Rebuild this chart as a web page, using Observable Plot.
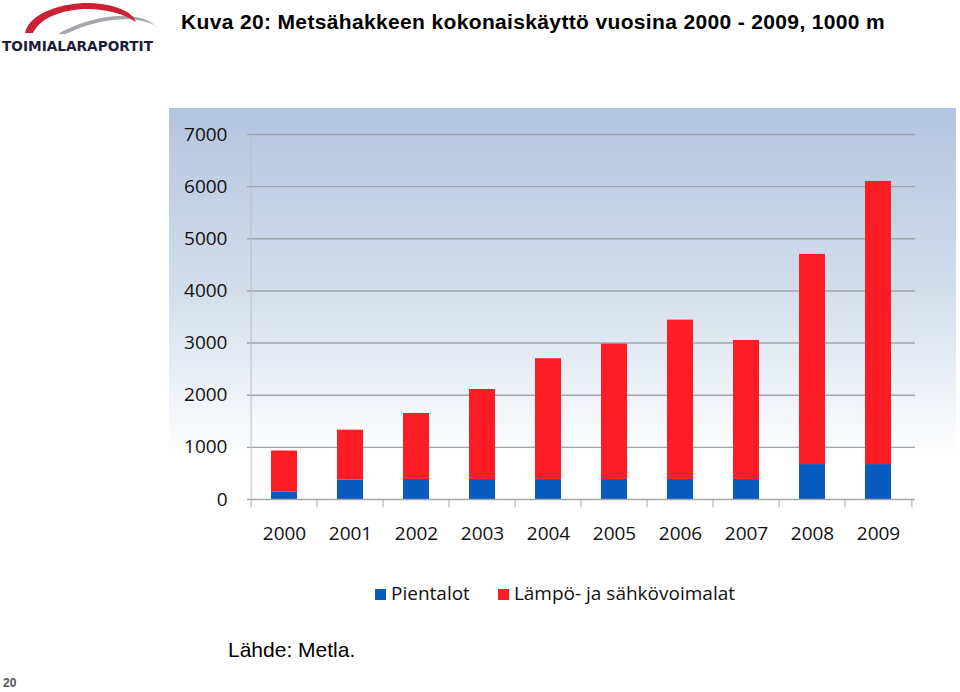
<!DOCTYPE html>
<html>
<head>
<meta charset="utf-8">
<script src="https://cdn.jsdelivr.net/npm/d3@7"></script>
<script src="https://cdn.jsdelivr.net/npm/@observablehq/plot@0.6"></script>
<style>
  html, body { margin: 0; padding: 0; background: #fff; }
  body { width: 960px; height: 692px; position: relative; overflow: hidden; font-family: "Liberation Sans", Arial, sans-serif; }
  #title { position: absolute; left: 181px; top: 10px; font-size: 21px; letter-spacing: 0.35px; font-weight: bold; color: #000; white-space: nowrap; }
  #panel { position: absolute; left: 169px; top: 108px; width: 787px; height: 460px;
           background: linear-gradient(to bottom, #b2c5df 0%, #d3deec 40%, #ffffff 76%, #ffffff 100%); }
  #chart { position: absolute; left: 169px; top: 108px; }
  #legend { position: absolute; left: 375px; top: 580px; font-family: "Open Sans", sans-serif; font-size: 19px; color: #111; white-space: nowrap; }
  #legend span.sw { display: inline-block; width: 11px; height: 11px; margin-right: 5px; vertical-align: 0px; }
  #legend span.it { margin-right: 28px; }
  #source { position: absolute; left: 228px; top: 638px; font-size: 21px; color: #000; }
  #page { position: absolute; left: 3px; top: 676px; font-size: 12px; font-weight: bold; color: #555; }
  #logo { position: absolute; left: 0; top: 0; }
</style>
</head>
<body>
<svg id="logo" width="160" height="56" viewBox="0 0 160 56">
  <path d="M 58 34 C 85 18, 135 6, 157 27 C 140 15, 100 17, 66 34 Z" fill="#a3a6ab"/>
  <path d="M 25 33 C 30 10, 70 2, 90 3 C 115 4, 133 12, 136 22 C 125 14, 105 9, 88 9 C 62 9, 40 18, 33 33 Z" fill="#cc2034"/>
  <text x="2" y="51" font-family="DejaVu Sans, sans-serif" font-weight="bold" font-size="14" fill="#1b1d3a" textLength="151" lengthAdjust="spacingAndGlyphs">TOIMIALARAPORTIT</text>
</svg>
<div id="title">Kuva 20: Metsähakkeen kokonaiskäyttö vuosina 2000 - 2009, 1000 m</div>
<div id="panel"></div>
<div id="chart"></div>
<div id="legend"></div>
<div id="source">Lähde: Metla.</div>
<div id="page">20</div>
<script>
const years = ["2000","2001","2002","2003","2004","2005","2006","2007","2008","2009"];
const seriesNames = ["Pientalot", "Lämpö- ja sähkövoimalat"];
const pientalot = [140, 370, 385, 385, 385, 385, 385, 385, 670, 670];
const lampo = [790, 960, 1265, 1725, 2315, 2595, 3055, 2665, 4030, 5430];
const seriesColors = ["#0a5bbf", "#fe1d25"];
const yTicks = [0, 1000, 2000, 3000, 4000, 5000, 6000, 7000];

const data = [];
years.forEach((y, i) => {
  data.push({year: y, series: seriesNames[0], value: pientalot[i]});
  data.push({year: y, series: seriesNames[1], value: lampo[i]});
});

const width = 788, height = 460;
const mL = 78, mR = 42, mT = 26, mB = 69;
const step = (width - mL - mR) / years.length;
const fontAxis = "Open Sans, sans-serif";

const chart = Plot.plot({
  width, height,
  marginLeft: mL, marginRight: mR, marginTop: mT, marginBottom: mB,
  style: {background: "transparent", fontFamily: fontAxis, fontSize: "19px", color: "#111", overflow: "visible"},
  x: {domain: years, paddingInner: 0.6, paddingOuter: 0.3, label: null},
  y: {domain: [0, 7000], label: null},
  color: {domain: seriesNames, range: seriesColors},
  marks: [
    Plot.ruleY(yTicks.slice(1), {stroke: "#9ea4ac", strokeWidth: 1.4}),
    Plot.ruleX(years.slice(0, 1), {x: d => d, dx: -step / 2, y1: 0, y2: 7000, stroke: "#b9bec4", strokeWidth: 1}),
    Plot.ruleX(years, {x: d => d, dx: -step / 2, y1: 0, y2: -160, stroke: "#a6a6a6", strokeWidth: 1}),
    Plot.ruleX(years.slice(-1), {x: d => d, dx: step / 2, y1: 0, y2: -160, stroke: "#a6a6a6", strokeWidth: 1}),
    Plot.barY(data, {x: "year", y: "value", fill: "series"}),
    Plot.ruleY([0], {stroke: "#a6a6a6", strokeWidth: 1.4}),
    Plot.axisY({ticks: yTicks, tickSize: 0, tickPadding: 20, tickFormat: d => String(d), fill: "#111", fontSize: 19}),
    Plot.axisX({tickSize: 0, tickPadding: 27, fill: "#111", fontSize: 19})
  ]
});
document.getElementById("chart").appendChild(chart);

const legend = document.getElementById("legend");
seriesNames.forEach((s, i) => {
  const it = document.createElement("span");
  it.className = "it";
  const sw = document.createElement("span");
  sw.className = "sw";
  sw.style.background = seriesColors[i];
  it.appendChild(sw);
  it.appendChild(document.createTextNode(s));
  legend.appendChild(it);
});
</script>
</body>
</html>
